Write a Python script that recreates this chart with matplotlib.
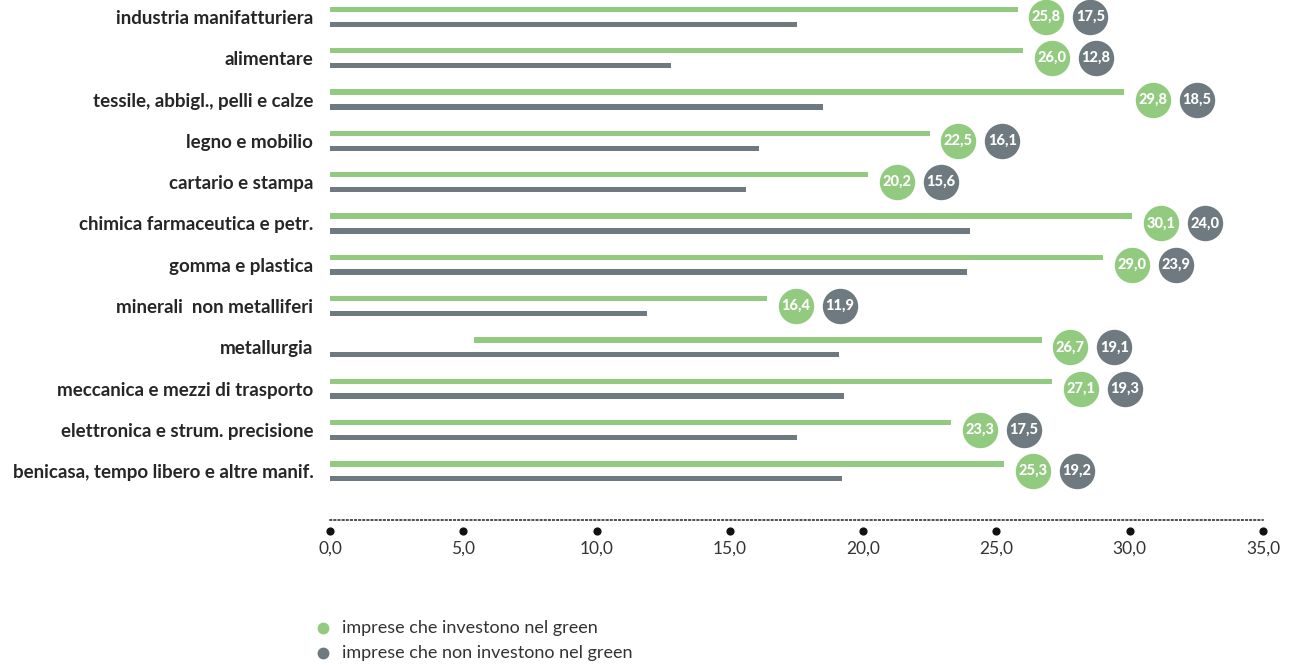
import matplotlib
matplotlib.use("Agg")
import matplotlib.pyplot as plt
from matplotlib.lines import Line2D

plt.rcParams['font.family'] = ['Lato', 'DejaVu Sans']

categories = [
    "industria manifatturiera",
    "alimentare",
    "tessile, abbigl., pelli e calze",
    "legno e mobilio",
    "cartario e stampa",
    "chimica farmaceutica e petr.",
    "gomma e plastica",
    "minerali  non metalliferi",
    "metallurgia",
    "meccanica e mezzi di trasporto",
    "elettronica e strum. precisione",
    "benicasa, tempo libero e altre manif.",
]
green = [25.8, 26.0, 29.8, 22.5, 20.2, 30.1, 29.0, 16.4, 26.7, 27.1, 23.3, 25.3]
grey = [17.5, 12.8, 18.5, 16.1, 15.6, 24.0, 23.9, 11.9, 19.1, 19.3, 17.5, 19.2]
# the green bar of metallurgia does not start at zero in the original
green_start = [0, 0, 0, 0, 0, 0, 0, 0, 5.4, 0, 0, 0]
xticks = [0, 5, 10, 15, 20, 25, 30, 35]
legend_labels = ["imprese che investono nel green", "imprese che non investono nel green"]

c_green = '#92CA7F'
c_grey = '#6F7A80'
c_text = '#262626'

W, H = 1293, 665
fig = plt.figure(figsize=(W / 100, H / 100), dpi=100)
ax = fig.add_axes([330 / W, 1 - 520 / H, (1263 - 330) / W, 520 / H])
ax.set_xlim(0, 35)
ax.set_ylim(12.18, -0.41)

n = len(categories)
rows = list(range(n))
widths = [g - s for g, s in zip(green, green_start)]
ax.barh([r - 0.18 for r in rows], widths, left=green_start, height=0.13, color=c_green)
ax.barh([r + 0.18 for r in rows], grey, height=0.13, color=c_grey)

# value bubbles right of the green bar
off1 = 1.07
off2 = 1.65
for i in rows:
    x1 = green[i] + off1
    x2 = x1 + off2
    ax.scatter([x1], [i], s=650, color=c_green, zorder=3, clip_on=False, linewidths=0)
    ax.scatter([x2], [i], s=650, color=c_grey, zorder=3, clip_on=False, linewidths=0)
    ax.text(x1, i, f"{green[i]:.1f}".replace('.', ','), ha='center', va='center',
            color='white', fontsize=10.5, fontweight='black', zorder=4)
    ax.text(x2, i, f"{grey[i]:.1f}".replace('.', ','), ha='center', va='center',
            color='white', fontsize=10.5, fontweight='black', zorder=4)

ax.set_yticks(rows)
ax.set_yticklabels(categories, fontsize=13.5, fontweight='bold', color=c_text)
ax.tick_params(axis='y', length=0, pad=12)

ax.set_xticks(xticks)
ax.set_xticklabels([f"{t:.1f}".replace('.', ',') for t in xticks], fontsize=12.5, color='#333333')
ax.tick_params(axis='x', length=0, pad=15)
for s in ['top', 'right', 'left']:
    ax.spines[s].set_visible(False)
ax.spines['bottom'].set_linestyle((0, (1, 1.7)))
ax.spines['bottom'].set_linewidth(1.1)
ax.spines['bottom'].set_color('#222222')

tr = ax.get_xaxis_transform()
ax.scatter(xticks, [-10.5 / 520] * len(xticks), s=24, color='#111111', transform=tr, clip_on=False)

# legend
for k, (lab, col) in enumerate(zip(legend_labels, [c_green, c_grey])):
    yy = 1 - (628 + 25 * k) / H
    fig.add_artist(Line2D([323 / W], [yy], marker='o', markersize=7.5, color=col,
                          linestyle='none', transform=fig.transFigure))
    fig.text(342 / W, yy, lab, fontsize=13, color='#333333', va='center', ha='left')

fig.savefig("out.png", dpi=100)
